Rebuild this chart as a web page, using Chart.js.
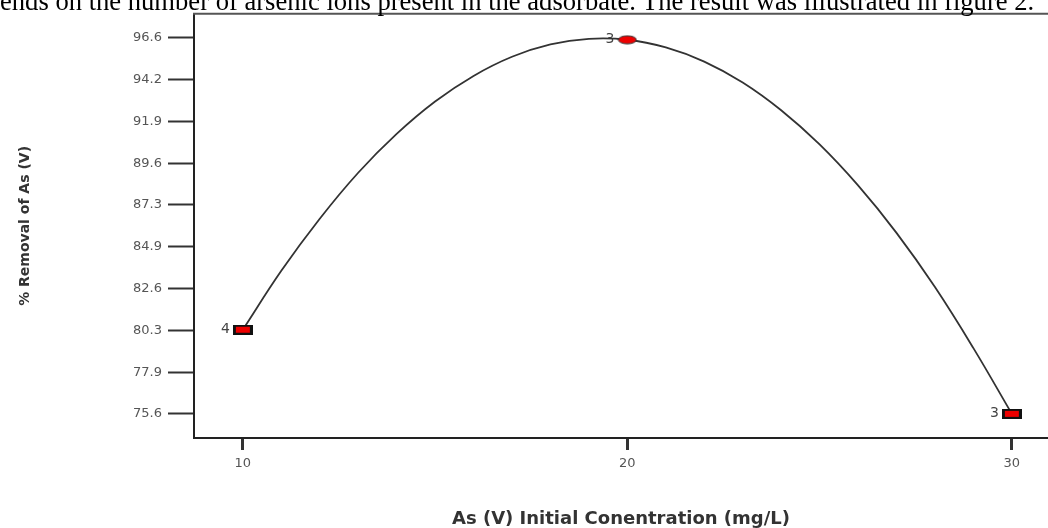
<!DOCTYPE html>
<html>
<head>
<meta charset="utf-8">
<script src="https://cdn.jsdelivr.net/npm/chart.js@4"></script>
<style>
  html, body { margin: 0; padding: 0; background: #fff; overflow: hidden; }
  #wrap { position: relative; width: 1048px; height: 528px; overflow: hidden; }
  #chart { position: absolute; left: 0; top: 0; }
  #caption { position: absolute; left: 0; top: -12px; font: 26.6px "Liberation Serif", serif; line-height: 26.6px; white-space: nowrap; color: #000; }
</style>
</head>
<body>
<div id="wrap">
  <canvas id="chart" width="1048" height="528"></canvas>
  <div id="caption">ends on the number of arsenic ions present in the adsorbate. The result was illustrated in figure 2.</div>
</div>
<script>
// Design points
const concentrations = [10, 20, 30];
const removal = [80.3, 96.5, 75.6];
const replicates = ['4', '3', '3'];

// Fitted curve at each 1 mg/L
const curveX = [10, 11, 12, 13, 14, 15, 16, 17, 18, 19, 20, 21, 22, 23, 24, 25, 26, 27, 28, 29, 30];
const curveY = [80.3, 83.59, 86.5, 89.07, 91.24, 93.05, 94.48, 95.55, 96.24, 96.55, 96.5, 96.07, 95.28, 94.11, 92.56, 90.65, 88.36, 85.71, 82.68, 79.27, 75.6];

// Axis ticks
const xTickValues = [10, 20, 30];
const yTickValues = [75.6, 77.93, 80.27, 82.6, 84.93, 87.27, 89.6, 91.93, 94.27, 96.6];
const yTickLabels = ['75.6', '77.9', '80.3', '82.6', '84.9', '87.3', '89.6', '91.9', '94.2', '96.6'];

const tickFont = { family: 'DejaVu Sans', size: 13 };

// Marker images (red box with black edge, red ellipse for the centre point)
function boxMarker() {
  const c = document.createElement('canvas');
  c.width = 20; c.height = 10;
  const g = c.getContext('2d');
  g.fillStyle = '#111';
  g.fillRect(0, 0, 20, 10);
  g.fillStyle = '#ee0000';
  g.fillRect(3, 2, 14, 6);
  return c;
}
function ovalMarker() {
  const c = document.createElement('canvas');
  c.width = 20; c.height = 10;
  const g = c.getContext('2d');
  g.beginPath();
  g.ellipse(10, 5, 9, 4, 0, 0, Math.PI * 2);
  g.fillStyle = '#ee0000';
  g.fill();
  g.lineWidth = 1;
  g.strokeStyle = '#333';
  g.stroke();
  return c;
}
const markers = [boxMarker(), ovalMarker(), boxMarker()];

// Replicate counts next to each design point
const replicateLabels = {
  id: 'replicateLabels',
  beforeDatasetsDraw(chart) {
    const ctx = chart.ctx;
    const meta = chart.getDatasetMeta(0);
    ctx.save();
    ctx.font = '14px "DejaVu Sans"';
    ctx.fillStyle = '#444';
    ctx.textAlign = 'right';
    ctx.textBaseline = 'middle';
    meta.data.forEach((pt, i) => ctx.fillText(replicates[i], pt.x - 13, pt.y));
    ctx.restore();
  }
};

// Top edge of the plot frame
const topFrame = {
  id: 'topFrame',
  afterDraw(chart) {
    const { ctx, chartArea } = chart;
    ctx.save();
    ctx.strokeStyle = '#555';
    ctx.lineWidth = 2;
    ctx.beginPath();
    ctx.moveTo(chartArea.left - 1, chartArea.top);
    ctx.lineTo(chartArea.right, chartArea.top);
    ctx.stroke();
    ctx.restore();
  }
};

new Chart(document.getElementById('chart'), {
  type: 'line',
  data: {
    datasets: [
      {
        data: concentrations.map((c, i) => ({ x: c, y: removal[i] })),
        showLine: false,
        pointStyle: markers,
        pointRadius: 10
      },
      {
        data: curveX.map((c, i) => ({ x: c, y: curveY[i] })),
        borderColor: '#333',
        borderWidth: 1.8,
        tension: 0.4,
        pointRadius: 0,
        fill: false
      }
    ]
  },
  options: {
    responsive: false,
    animation: false,
    layout: { padding: 0, autoPadding: false },
    plugins: { legend: { display: false }, tooltip: { enabled: false } },
    scales: {
      x: {
        type: 'linear',
        min: 8.73,
        max: 30.94,
        afterBuildTicks: s => { s.ticks = xTickValues.map(v => ({ value: v })); },
        afterFit: s => { s.height = 90; },
        grid: { drawOnChartArea: false, tickLength: 12, tickWidth: 3, tickColor: '#333' },
        border: { color: '#222', width: 2 },
        ticks: { padding: 6, color: '#555', font: tickFont, maxRotation: 0 },
        title: {
          display: true,
          text: 'As (V) Initial Conentration (mg/L)',
          color: '#333',
          font: { family: 'DejaVu Sans', size: 18, weight: 'bold', lineHeight: 1 },
          padding: { top: 0, bottom: 0 }
        }
      },
      y: {
        min: 74.25,
        max: 97.95,
        afterBuildTicks: s => { s.ticks = yTickValues.map(v => ({ value: v })); },
        afterFit: s => { s.width = 194; },
        grid: { drawOnChartArea: false, tickLength: 26, tickWidth: 2, tickColor: '#333' },
        border: { color: '#222', width: 2 },
        ticks: {
          padding: 6,
          color: '#555',
          font: tickFont,
          callback: (v, i) => yTickLabels[i]
        },
        title: {
          display: true,
          text: '% Removal of As (V)',
          color: '#333',
          font: { family: 'DejaVu Sans', size: 14, weight: 'bold' },
          padding: { top: 17, bottom: 0 }
        }
      }
    }
  },
  plugins: [replicateLabels, topFrame]
});
</script>
</body>
</html>
